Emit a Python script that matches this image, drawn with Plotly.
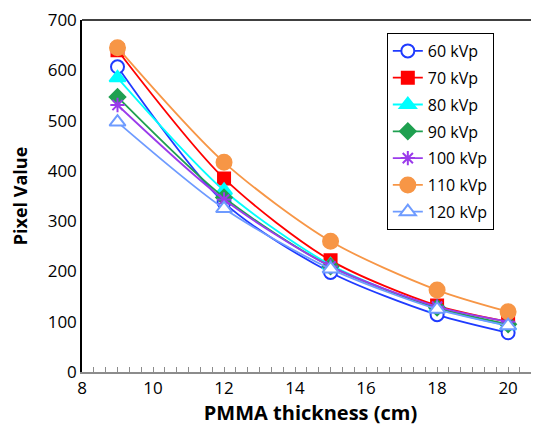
import plotly.graph_objects as go

thickness = [9, 12, 15, 18, 20]
series_names = ["60 kVp", "70 kVp", "80 kVp", "90 kVp", "100 kVp", "110 kVp", "120 kVp"]
v60 = [607, 337, 198, 114, 78]
v70 = [640, 385, 222, 132, 100]
v80 = [585, 361, 213, 127, 92]
v90 = [547, 347, 210, 128, 95]
v100 = [531, 343, 210, 130, 100]
v110 = [645, 417, 260, 163, 120]
v120 = [497, 325, 205, 125, 92]
values = [v60, v70, v80, v90, v100, v110, v120]

colors = ["#1F3BFF", "#FF0000", "#00FFFF", "#1FA050", "#9B3BEB", "#F79646", "#6E9BFF"]
symbols = ["circle", "square", "triangle-up", "diamond", "asterisk-open", "circle", "triangle-up"]
fills = ["white", None, None, None, None, None, "white"]
sizes = [13, 12, 14, 12, 12, 15, 14]

fig = go.Figure()
for i, (name, vals, c, s, f, sz) in enumerate(zip(series_names, values, colors, symbols, fills, sizes)):
    fig.add_trace(go.Scatter(
        x=thickness, y=vals, name=name, mode="lines+markers", legendgroup=f"g{i}",
        line=dict(color=c, width=1.8, shape="spline", smoothing=0.8),
        marker=dict(symbol=s, size=sz, color=f if f else c,
                    line=dict(color=c, width=2)),
    ))

font_family = "Open Sans, Liberation Sans, sans-serif"
fig.update_layout(
    width=531, height=419,
    margin=dict(l=74, r=0, t=12, b=55, autoexpand=False),
    plot_bgcolor="white", paper_bgcolor="white",
    font=dict(family=font_family, size=15, color="black"),
    showlegend=True,
    legend=dict(x=0.667, y=0.963, xanchor="left", yanchor="top",
                bordercolor="black", borderwidth=1, bgcolor="white",
                font=dict(size=16), tracegroupgap=3),
    xaxis=dict(range=[8, 20.87], tick0=8, dtick=2, showgrid=False, zeroline=False,
               automargin=False,
               showline=True, linecolor="#8c8c8c", linewidth=1.5,
               ticks="inside", ticklen=5, tickcolor="#8c8c8c",
               minor=dict(tick0=8, dtick=1/3, ticks="inside", ticklen=5, tickcolor="#8c8c8c"),
               tickfont=dict(size=17),
               title=dict(text="<b>PMMA thickness (cm)</b>", font=dict(size=20), standoff=2)),
    yaxis=dict(range=[0, 700.01], tickvals=[0, 100, 200, 300, 400, 500, 600, 700],
               showgrid=False, zeroline=False,
               automargin=False, ticklabeloverflow="allow",
               showline=True, linecolor="black", linewidth=1.5, ticks="",
               tickfont=dict(size=17),
               title=dict(text="<b>Pixel Value</b>", font=dict(size=18), standoff=20)),
    shapes=[dict(type="line", xref="paper", yref="paper", x0=0, x1=1, y0=1, y1=1,
                 line=dict(color="black", width=1.5))],
)

fig.write_html("out.html")
